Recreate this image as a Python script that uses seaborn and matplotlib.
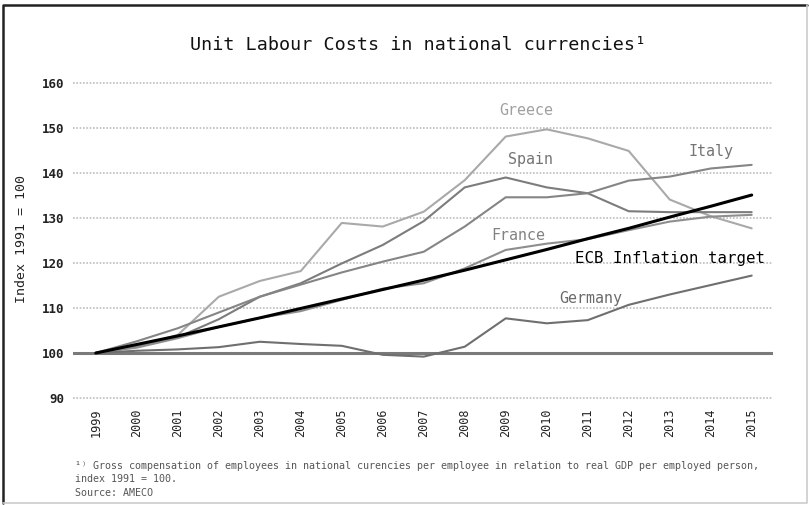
import pandas as pd
import matplotlib.pyplot as plt
import seaborn as sns
from matplotlib.lines import Line2D

# data
years = list(range(1999, 2016))
greece = [100, 101.5, 104, 112.5, 116, 118.2, 128.9, 128.1, 131.4, 138.4, 148.1, 149.7, 147.7, 144.9, 134.1, 130.4, 127.7]
spain = [100, 101.5, 103.5, 107.5, 112.5, 115.5, 119.9, 124, 129.3, 136.8, 139, 136.8, 135.5, 131.5, 131.3, 131.3, 131.3]
italy = [100, 102.6, 105.5, 109, 112.5, 115.2, 117.9, 120.3, 122.5, 128.1, 134.6, 134.6, 135.5, 138.3, 139.2, 141, 141.8]
france = [100, 101.2, 103.3, 105.8, 107.8, 109.3, 111.8, 114.3, 115.5, 118.8, 122.9, 124.3, 125.3, 127.3, 129.2, 130.3, 130.7]
germany = [100, 100.5, 100.8, 101.3, 102.5, 102, 101.6, 99.6, 99.2, 101.4, 107.7, 106.6, 107.3, 110.7, 113, 115.1, 117.2]
ecb = [100, 101.9, 103.8, 105.8, 107.8, 109.9, 112.0, 114.1, 116.2, 118.4, 120.7, 123.0, 125.4, 127.7, 130.2, 132.6, 135.1]

series = {"Greece": greece, "Spain": spain, "Italy": italy, "France": france,
          "Germany": germany, "ECB Inflation target": ecb}
df = pd.concat([pd.DataFrame({"Year": years, "Index": v, "Country": k}) for k, v in series.items()])

palette = {"Greece": "#a9a9a9", "Spain": "#7c7c7c", "Italy": "#858585", "France": "#8e8e8e",
           "Germany": "#6f6f6f", "ECB Inflation target": "#000000"}
widths = {"Greece": 1.5, "Spain": 1.5, "Italy": 1.5, "France": 1.5, "Germany": 1.5, "ECB Inflation target": 2.2}

sns.set_style("white")
plt.rcParams['font.family'] = ['DejaVu Sans Mono', 'DejaVu Sans']

fig = plt.figure(figsize=(8.09, 5.05), dpi=100)
ax = fig.add_axes([0.090, 0.2074, 0.865, 0.6372])

for name in series:
    sns.lineplot(data=df[df["Country"] == name], x="Year", y="Index", color=palette[name],
                 linewidth=widths[name], ax=ax, zorder=3 if name.startswith("ECB") else 2)

ax.axhline(100, color="#7a7a7a", linewidth=2.2, zorder=1)
ax.set_xlim(1998.44, 2015.51)
ax.set_ylim(89.5, 161)
ax.set_yticks(range(90, 161, 10))
ax.set_xticks(years)
ax.set_xticklabels([str(y) for y in years], rotation=90, fontsize=8.5, color="#222222")
ax.set_yticklabels([str(t) for t in range(90, 161, 10)], fontsize=9, color="#222222", fontweight="bold")
ax.tick_params(axis="y", length=0, pad=6)
ax.tick_params(axis="x", length=0, pad=6)
for t in range(90, 161, 10):
    if t != 100:
        ax.axhline(t, color="#bdbdbd", linewidth=1.2, linestyle=(0, (1, 1)), zorder=0)
for s in ax.spines.values():
    s.set_visible(False)
ax.set_xlabel("")
ax.set_ylabel("Index 1991 = 100", fontsize=9.5, color="#222222", labelpad=10)

# series labels
labels = [("Greece", 2009.5, 153.8, "#a0a0a0"), ("Spain", 2009.6, 142.9, "#747474"),
          ("Italy", 2014.0, 144.7, "#747474"), ("France", 2009.3, 126.2, "#828282"),
          ("ECB Inflation target", 2013.0, 121.1, "#000000"), ("Germany", 2011.07, 112.2, "#6a6a6a")]
for txt, x, y, c in labels:
    ax.text(x, y, txt, ha="center", va="center", fontsize=11.3 if txt.startswith("ECB") else 10.8, color=c)

fig.text(0.517, 0.911, "Unit Labour Costs in national currencies\u00b9", ha="center", va="center",
         fontsize=13.2, color="#111111")

foot = ["\u00b9\u207e Gross compensation of employees in national curencies per employee in relation to real GDP per employed person,",
        "index 1991 = 100.",
        "Source: AMECO"]
for i, (line, ypix) in enumerate(zip(foot, [466, 479, 493])):
    fig.text(75 / 809, 1 - ypix / 505, line, ha="left", va="center", fontsize=7.2, color="#555555")

# frame: dark top/left, light right/bottom
x0, x1, y0, y1 = 3 / 809, 807 / 809, 1 - 503 / 505, 1 - 5 / 505
fig.add_artist(Line2D([x0, x0, x1], [y0, y1, y1], transform=fig.transFigure, color="#222222", linewidth=1.8))
fig.add_artist(Line2D([x0, x1, x1], [y0, y0, y1], transform=fig.transFigure, color="#cccccc", linewidth=1.2))

fig.savefig("out.png", dpi=100)
